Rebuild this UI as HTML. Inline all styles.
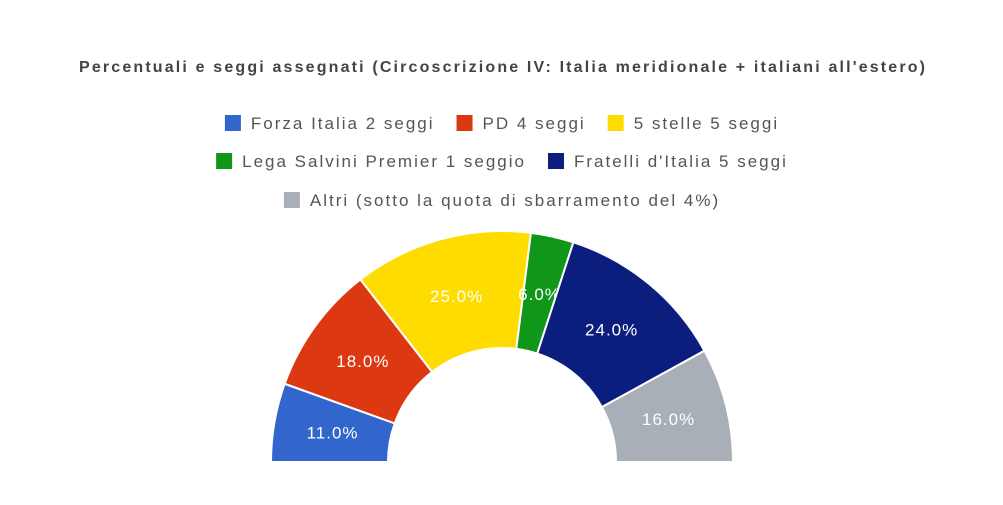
<!DOCTYPE html>
<html><head><meta charset="utf-8"><style>
body{margin:0;background:#fff;width:1003px;height:500px;overflow:hidden;font-family:"Liberation Sans",Arial,sans-serif}
</style></head><body>
<svg id="chart" width="1003" height="500" xmlns="http://www.w3.org/2000/svg">
<rect width="1003" height="500" fill="#fff"/>
<text x="502" y="72" text-anchor="middle" font-size="16" font-weight="bold" fill="#444" textLength="846" lengthAdjust="spacing">Percentuali e seggi assegnati (Circoscrizione IV: Italia meridionale + italiani all'estero)</text>
<g id="legend"></g>
<g id="slices"></g>
</svg>
<script>
const categories=["Forza Italia 2 seggi","PD 4 seggi","5 stelle 5 seggi","Lega Salvini Premier 1 seggio","Fratelli d'Italia 5 seggi","Altri (sotto la quota di sbarramento del 4%)"];
const values=[11,18,25,6,24,16];
const colors=["#3366cc","#dc3912","#fedc00","#109618","#0b1e7e","#a8afb6"];
const legendRows=[[0,1,2],[3,4],[5]];
const NS="http://www.w3.org/2000/svg";
const cx=502,cy=462,ro=231,ri=114;
const total=values.reduce((a,b)=>a+b,0);
const sl=document.getElementById('slices');
function pt(r,a){return [cx+r*Math.cos(a),cy-r*Math.sin(a)];}
let acc=0;
values.forEach((v,i)=>{
  const a0=Math.PI*(1-acc/total),a1=Math.PI*(1-(acc+v)/total);
  const p1=pt(ro,a0),p2=pt(ro,a1),p3=pt(ri,a1),p4=pt(ri,a0);
  const p=document.createElementNS(NS,'path');
  p.setAttribute('d',`M${p1[0]},${p1[1]} A${ro},${ro} 0 0 1 ${p2[0]},${p2[1]} L${p3[0]},${p3[1]} A${ri},${ri} 0 0 0 ${p4[0]},${p4[1]} Z`);
  p.setAttribute('fill',colors[i]);p.setAttribute('stroke','#fff');p.setAttribute('stroke-width','2');
  
  
  sl.appendChild(p);
  const am=(a0+a1)/2,lp=pt(172,am);
  const t=document.createElementNS(NS,'text');
  t.setAttribute('x',lp[0]);t.setAttribute('y',lp[1]+6);t.setAttribute('text-anchor','middle');
  t.setAttribute('font-size','17');t.setAttribute('fill','#fff');t.setAttribute('letter-spacing','1');
  t.textContent=v.toFixed(1)+'%';
  
  
  sl.appendChild(t);
  acc+=v;
});
const lg=document.getElementById('legend');
const rowY=[123,161,200];
const LS=2;
const c=document.createElement('canvas').getContext('2d');c.font='17px "Liberation Sans", Arial, sans-serif';
function tw(s){return c.measureText(s).width+LS*s.length;}
legendRows.forEach((row,ri2)=>{
  const widths=row.map(i=>16+10+tw(categories[i]));
  const gap=22;const totalW=widths.reduce((a,b)=>a+b,0)+gap*(row.length-1);
  let x=502-totalW/2;
  row.forEach((i,k)=>{
    const g=document.createElementNS(NS,'g');
    
    
    const r=document.createElementNS(NS,'rect');
    r.setAttribute('x',x);r.setAttribute('y',rowY[ri2]-8);r.setAttribute('width',16);r.setAttribute('height',16);r.setAttribute('fill',colors[i]);
    g.appendChild(r);
    const t=document.createElementNS(NS,'text');
    t.setAttribute('x',x+26);t.setAttribute('y',rowY[ri2]+6);t.setAttribute('font-size','17');t.setAttribute('fill','#555');
    t.setAttribute('letter-spacing',LS);
    t.textContent=categories[i];g.appendChild(t);
    lg.appendChild(g);
    x+=widths[k]+gap;
  });
});
</script>
</body></html>
